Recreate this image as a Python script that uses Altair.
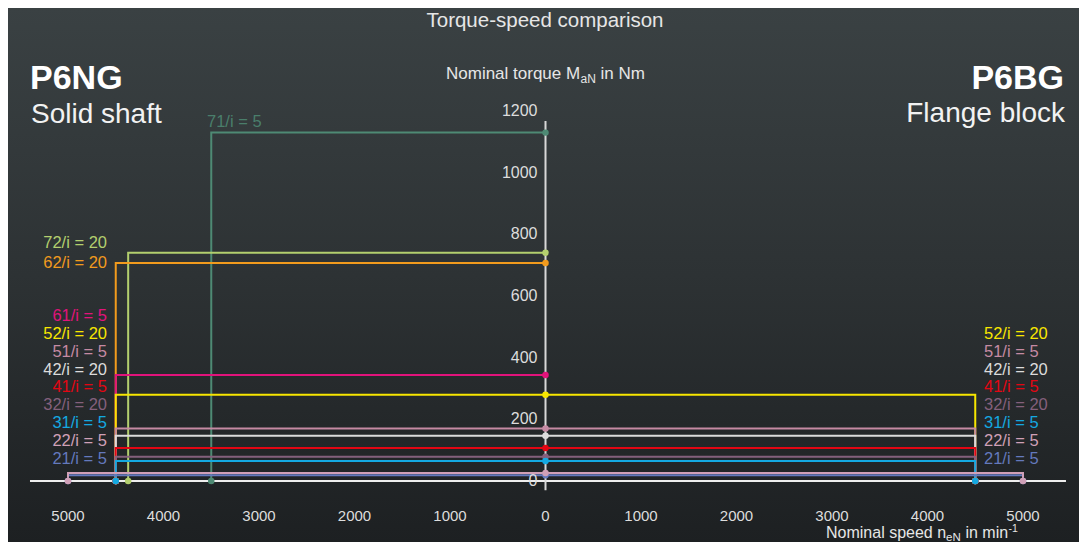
import altair as alt
import pandas as pd

# ---------------- data ----------------
series = ["71/i = 5", "72/i = 20", "62/i = 20", "61/i = 5", "52/i = 20", "51/i = 5",
          "42/i = 20", "41/i = 5", "32/i = 20", "31/i = 5", "21/i = 5", "22/i = 5"]
torque = [1130, 740, 707, 344, 280, 170, 147, 107, 79, 65, 19, 26]          # Nm
speed_ng = [3500, 4370, 4500, 4500, 4500, 4500, 4500, 4500, 4500, 4500, 5000, 5000]  # P6NG (left)
speed_bg = [None, None, None, None, 4500, 4500, 4500, 4500, 4500, 4500, 5000, 5000]  # P6BG (right)
colors = ["#4e8a74", "#b3cf6e", "#f29b1d", "#e2137b", "#f7e600", "#c58aa3",
          "#dcdcdc", "#e30613", "#84607c", "#14a9e1", "#6479bd", "#d0a0b7"]

y_ticks = [0, 200, 400, 600, 800, 1000, 1200]
x_ticks = [-5000, -4000, -3000, -2000, -1000, 0, 1000, 2000, 3000, 4000, 5000]

# label stack order (bottom to top)
left_stack = ["21/i = 5", "22/i = 5", "31/i = 5", "32/i = 20", "41/i = 5",
              "42/i = 20", "51/i = 5", "52/i = 20", "61/i = 5"]
right_stack = ["21/i = 5", "22/i = 5", "31/i = 5", "32/i = 20", "41/i = 5",
               "42/i = 20", "51/i = 5", "52/i = 20"]

# ---------------- layout ----------------
W, H = 1071, 534
X0, KX = 537.5, 0.0955      # pixel of speed 0, px per rpm
Y0, KY = 473.0, 0.3083      # pixel of torque 0, px per Nm
x_dom = [-X0 / KX, (W - X0) / KX]
y_dom = [-(H - Y0) / KY, Y0 / KY]
xs = alt.Scale(domain=x_dom, nice=False, zero=False)
ys = alt.Scale(domain=y_dom, nice=False, zero=False)
cs = alt.Scale(domain=series, range=colors)
FONT = "Liberation Sans"
TXT = "#e6e6e6"

# ---------------- tables ----------------
rows, pts = [], []
for i, (n, t, sl, sr) in enumerate(zip(series, torque, speed_ng, speed_bg)):
    path = [(-sl, 0), (-sl, t), (0, t)]
    if sr is not None:
        path += [(sr, t), (sr, 0)]
    for k, (s, tt) in enumerate(path):
        rows.append({"series": n, "s": s, "t": tt, "ord": k, "z": i})
    pts.append({"series": n, "s": -sl, "t": 0, "z": i})
    pts.append({"series": n, "s": 0, "t": t, "z": i})
    if sr is not None:
        pts.append({"series": n, "s": sr, "t": 0, "z": i})
paths = pd.DataFrame(rows)
points = pd.DataFrame(pts)

lab = []
for r, n in enumerate(left_stack):
    lab.append({"series": n, "px": 99, "py": 450.5 - 17.8 * r, "al": "right"})
lab.append({"series": "62/i = 20", "px": 99, "py": 255, "al": "right"})
lab.append({"series": "72/i = 20", "px": 99, "py": 235, "al": "right"})
for r, n in enumerate(right_stack):
    lab.append({"series": n, "px": 976, "py": 450.5 - 17.8 * r, "al": "left"})
labels = pd.DataFrame(lab)
lab71 = pd.DataFrame([{"series": "71/i = 5", "px": 199, "py": 114}])

yt = pd.DataFrame({"t": y_ticks, "lab": [str(v) for v in y_ticks]})
xt = pd.DataFrame({"s": x_ticks, "lab": [str(abs(v)) for v in x_ticks]})
one = pd.DataFrame({"a": [0]})

# ---------------- layers ----------------
bg = alt.Chart(one).mark_rect(
    color=alt.Gradient(gradient="linear",
                       stops=[alt.GradientStop(color="#3a4143", offset=0),
                              alt.GradientStop(color="#2d3234", offset=0.5),
                              alt.GradientStop(color="#1d2022", offset=1)],
                       x1=0, x2=0, y1=0, y2=1)
).encode(x=alt.value(0), x2=alt.value(W), y=alt.value(0), y2=alt.value(H))

xaxis = alt.Chart(pd.DataFrame({"s": [-5398], "s2": [5450], "t": [0]})).mark_rule(
    color="#eeeeee", strokeWidth=2).encode(
    x=alt.X("s:Q", scale=xs, axis=None), x2="s2:Q", y=alt.Y("t:Q", scale=ys, axis=None))
yaxis = alt.Chart(pd.DataFrame({"s": [0], "t": [-30], "t2": [1168]})).mark_rule(
    color="#d8d8d8", strokeWidth=2).encode(
    x=alt.X("s:Q", scale=xs, axis=None), y=alt.Y("t:Q", scale=ys, axis=None), y2="t2:Q")

lines = alt.Chart(paths).mark_line(strokeWidth=2, strokeJoin="miter", strokeCap="square").encode(
    x=alt.X("s:Q", scale=xs, axis=None),
    y=alt.Y("t:Q", scale=ys, axis=None),
    color=alt.Color("series:N", scale=cs, legend=None),
    order="ord:Q")

dots = alt.Chart(points).mark_circle(size=42, opacity=1).encode(
    x=alt.X("s:Q", scale=xs, axis=None),
    y=alt.Y("t:Q", scale=ys, axis=None),
    color=alt.Color("series:N", scale=cs, legend=None),
    order="z:Q")

ytl = alt.Chart(yt).mark_text(align="right", baseline="middle", dx=-8, font=FONT,
                              fontSize=16, color="#dddddd").encode(
    x=alt.value(X0), y=alt.Y("t:Q", scale=ys, axis=None), text="lab:N")
xtl = alt.Chart(xt).mark_text(align="center", baseline="middle", font=FONT,
                              fontSize=15, color="#dddddd").encode(
    x=alt.X("s:Q", scale=xs, axis=None), y=alt.value(507.5), text="lab:N")

lab_l = alt.Chart(labels[labels.al == "right"]).mark_text(
    align="right", baseline="middle", font=FONT, fontSize=16.5).encode(
    x=alt.X("px:Q", scale=None), y=alt.Y("py:Q", scale=None), text="series:N",
    color=alt.Color("series:N", scale=cs, legend=None))
lab_r = alt.Chart(labels[labels.al == "left"]).mark_text(
    align="left", baseline="middle", font=FONT, fontSize=16.5).encode(
    x=alt.X("px:Q", scale=None), y=alt.Y("py:Q", scale=None), text="series:N",
    color=alt.Color("series:N", scale=cs, legend=None))
lab_71 = alt.Chart(lab71).mark_text(
    align="left", baseline="middle", font=FONT, fontSize=16.5, opacity=0.85).encode(
    x=alt.X("px:Q", scale=None), y=alt.Y("py:Q", scale=None), text="series:N",
    color=alt.Color("series:N", scale=cs, legend=None))


def txt(text, x, y, size, align="left", baseline="alphabetic", weight="normal", color=TXT):
    return alt.Chart(one).mark_text(text=text, align=align, baseline=baseline, font=FONT,
                                    fontSize=size, fontWeight=weight, color=color).encode(
        x=alt.value(x), y=alt.value(y))


titles = [
    txt("Torque-speed comparison", 537, 12.5, 20.5, align="center", baseline="middle"),
    txt("P6NG", 22, 81, 34, weight="bold", color="#ffffff"),
    txt("Solid shaft", 23, 115, 28, color="#f2f2f2"),
    txt("P6BG", 1056, 81, 34, align="right", weight="bold", color="#ffffff"),
    txt("Flange block", 1057, 114, 28, align="right", color="#f2f2f2"),
    # y-axis title with subscript
    txt("Nominal torque M", 438, 71, 17),
    txt("aN", 572.5, 75, 12),
    txt("in Nm", 592.5, 71, 17),
    # x-axis title with subscript / superscript
    txt("Nominal speed n", 818, 530, 16),
    txt("eN", 938.1, 533.3, 11.5),
    txt("in min", 957.4, 530, 16),
    txt("-1", 1000.4, 523.5, 10.5),
]

chart = alt.layer(bg, xaxis, yaxis, lines, dots, ytl, xtl, lab_l, lab_r, lab_71, *titles).properties(
    width=W, height=H, padding=0,
    autosize=alt.AutoSizeParams(type="none"),
    background="#2b2f31",
).configure_view(stroke=None)

chart.save("out.html", embed_options={"renderer": "svg", "actions": False})
